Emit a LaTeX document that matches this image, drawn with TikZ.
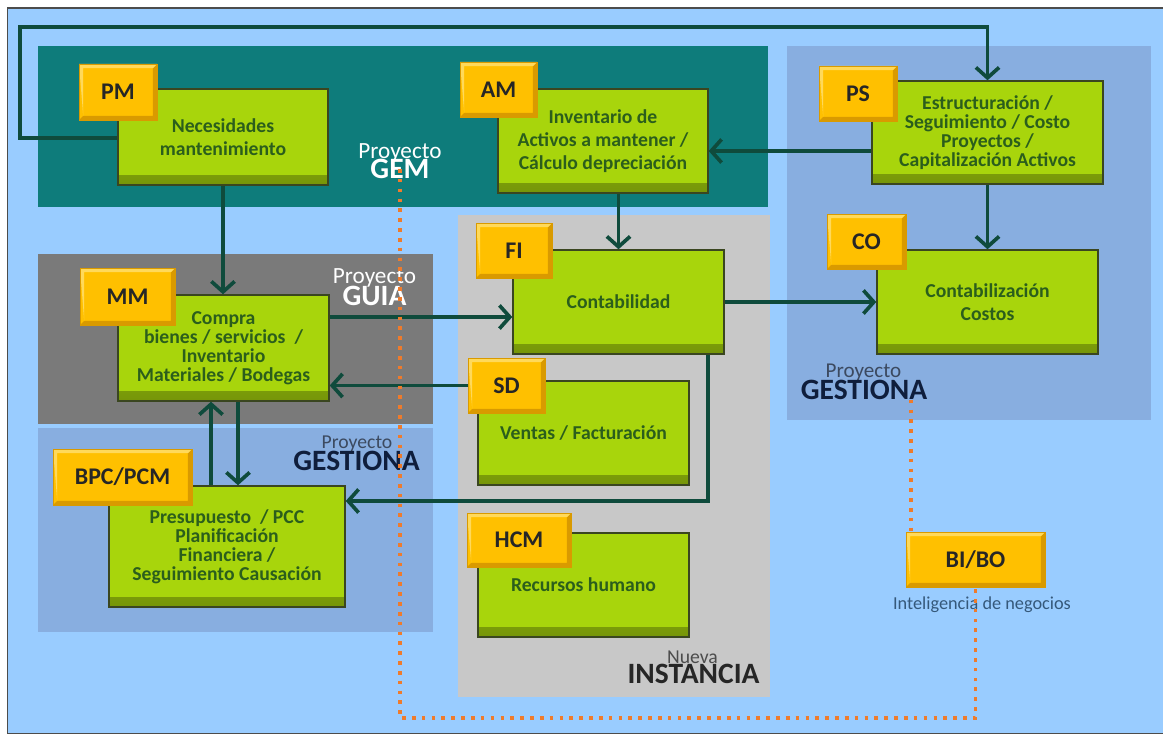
\documentclass[tikz,border=0pt]{standalone}
\usepackage{fontspec}
\setmainfont{Carlito}
\usetikzlibrary{arrows.meta,positioning,calc}
\definecolor{mapsky}{HTML}{99CCFF}
\definecolor{mapteal}{HTML}{0E7C7B}
\definecolor{mapsteel}{HTML}{88AEE0}
\definecolor{mapslate}{HTML}{7A7A7A}
\definecolor{mapsilver}{HTML}{C8C8C8}
\definecolor{maplime}{HTML}{A8D50C}
\definecolor{mapedge}{HTML}{3A4620}
\definecolor{maptext}{HTML}{2B5E1C}
\definecolor{mapamber}{HTML}{FFC000}
\definecolor{mapamberdk}{HTML}{D99A00}
\definecolor{mapamberlt}{HTML}{FFD95A}
\definecolor{maparrow}{HTML}{0F4B3C}
\definecolor{maporange}{HTML}{EE7B2C}
\definecolor{mapnavy}{HTML}{0F1E3C}
\definecolor{mapgrey}{HTML}{3C4A60}
\definecolor{mapbi}{HTML}{35587A}

\begin{document}
\begin{tikzpicture}[
  modbox/.style={draw=mapedge, line width=1pt, fill=maplime, text=maptext,
    align=center, font=\fontsize{14}{13.5}\selectfont\bfseries, inner sep=2pt,
    path picture={\shade[top color=maplime, bottom color=maplime!70!black]
      ($(path picture bounding box.south west)+(0,7pt)$) rectangle (path picture bounding box.south east);}},
  airy/.style={font=\fontsize{14}{16.5}\selectfont\bfseries},
  tag/.style={fill=mapamber, draw=mapamberdk, line width=0.6pt, text=black!85,
    font=\fontsize{17}{17}\selectfont\bfseries, inner sep=0pt,
    path picture={
      \fill[mapamberdk] (path picture bounding box.south west) -- (path picture bounding box.south east)
        -- (path picture bounding box.north east) -- ++(-3pt,-3pt)
        |- ($(path picture bounding box.south west)+(3pt,3pt)$) -- cycle;
      \fill[mapamberlt] (path picture bounding box.north west) -- (path picture bounding box.north east)
        -- ++(-3pt,-3pt) -| ($(path picture bounding box.south west)+(3pt,3pt)$) -- cycle;}},
  sub/.style={font=\fontsize{16.5}{16.5}\selectfont, inner sep=0pt},
  big/.style={font=\fontsize{21}{21}\selectfont\bfseries, inner sep=0pt},
  arr/.style={-{Straight Barb[length=2.6mm,width=5.8mm,line width=2.6pt 0]}, line width=2.6pt, maparrow},
  orangedots/.style={maporange, line width=2.6pt, dash pattern=on 2.6pt off 4.4pt},
]
\useasboundingbox (0,0) rectangle (29.075,-18.475);
% --- background and project areas ---
\draw[fill=mapsky, draw=gray!60!black, line width=0.8pt] (0.18,-0.2) rectangle (29.4,-18.33);
\fill[mapteal] (0.95,-1.15) rectangle (19.2,-5.175);
\fill[mapsteel] (19.675,-1.15) rectangle (28.775,-10.5);
\fill[mapslate] (0.95,-6.35) rectangle (10.825,-10.6);
\fill[mapsteel] (0.95,-10.7) rectangle (10.825,-15.8);
\fill[mapsilver] (11.45,-5.375) rectangle (19.25,-17.425);
% --- modules ---
\node[modbox, airy, minimum width=5.25cm, minimum height=2.4cm] (nec) at (5.575,-3.425) {Necesidades\\mantenimiento};
\node[modbox, airy, minimum width=5.25cm, minimum height=2.6cm] (act) at (15.075,-3.525) {Inventario de\\Activos a mantener /\\Cálculo depreciación};
\node[modbox, minimum width=5.775cm, minimum height=2.575cm] (est) at (24.6875,-3.3125) {Estructuración /\\Seguimiento / Costo\\Proyectos /\\Capitalización Activos};
\node[modbox, airy, minimum width=5.525cm, minimum height=2.6cm] (cos) at (24.6875,-7.55) {Contabilización\\Costos};
\node[modbox, minimum width=5.275cm, minimum height=2.6cm] (cont) at (15.4625,-7.55) {Contabilidad};
\node[modbox, minimum width=5.275cm, minimum height=2.6cm] (vent) at (14.5875,-10.825) {Ventas / Facturación};
\node[modbox, minimum width=5.275cm, minimum height=2.65cm] (comp) at (5.5875,-8.7) {Compra\\bienes / servicios\ \ /\\Inventario\\Materiales / Bodegas};
\node[modbox, minimum width=5.9cm, minimum height=3.025cm] (pres) at (5.675,-13.6625) {Presupuesto\ \ / PCC\\Planificación\\Financiera /\\Seguimiento Causación};
\node[modbox, minimum width=5.275cm, minimum height=2.6cm] (rrhh) at (14.5875,-14.625) {Recursos humano};
% --- module tags ---
\node[tag, minimum width=1.95cm, minimum height=1.4cm] (pmtag) at (2.95,-2.3) {PM};
\node[tag, minimum width=1.925cm, minimum height=1.375cm] (amtag) at (12.4625,-2.2375) {AM};
\node[tag, minimum width=1.95cm, minimum height=1.375cm] (pstag) at (21.45,-2.3375) {PS};
\node[tag, minimum width=1.975cm, minimum height=1.375cm] (cotag) at (21.6625,-6.0375) {CO};
\node[tag, minimum width=1.9cm, minimum height=1.375cm] (fitag) at (12.85,-6.2625) {FI};
\node[tag, minimum width=1.925cm, minimum height=1.375cm] (sdtag) at (12.6625,-9.6375) {SD};
\node[tag, minimum width=2.375cm, minimum height=1.425cm] (mmtag) at (3.1875,-7.4125) {MM};
\node[tag, minimum width=3.475cm, minimum height=1.4cm] (bpctag) at (3.0625,-11.925) {BPC/PCM};
\node[tag, minimum width=2.6cm, minimum height=1.35cm] (hcmtag) at (12.975,-13.5) {HCM};
\node[tag, minimum width=3.475cm, minimum height=1.375cm] (bibo) at (24.3875,-13.9875) {BI/BO};
\node[font=\fontsize{13}{13}\selectfont, text=mapbi, inner sep=0pt] (bitext) at (24.55,-15.125) {Inteligencia de negocios};
% --- project labels ---
\node[sub, text=white] (gemsub) at (10,-3.825) {Proyecto};
\node[big, text=white] (gemname) at (10,-4.225) {GEM};
\node[sub, text=white] (guiasub) at (9.3625,-6.94) {Proyecto};
\node[big, text=white] (guianame) at (9.3625,-7.41) {GUIA};
\node[sub, font=\fontsize{14}{14}\selectfont, text=mapgrey] (geslsub) at (8.925,-11.1) {Proyecto};
\node[big, text=mapnavy] (geslname) at (8.9125,-11.525) {GESTIONA};
\node[sub, font=\fontsize{15}{15}\selectfont, text=mapgrey] (gesrsub) at (21.5875,-9.31) {Proyecto};
\node[big, text=mapnavy] (gesrname) at (21.6,-9.74) {GESTIONA};
\node[sub, font=\fontsize{14}{14}\selectfont, text=black!70] (nuevasub) at (17.3125,-16.425) {Nueva};
\node[big, text=black!85] (instname) at (17.3375,-16.86) {INSTANCIA};
% --- flows ---
\coordinate (loopc) at (0.5,-0.675);
\draw[arr] ([yshift=-0.025cm]nec.west) -| (loopc) -| (est.north);
\draw[arr] (nec.south) -- (nec.south |- comp.north);
\draw[arr] ([yshift=-0.4625cm]est.west) -- ([yshift=-0.4625cm]est.west -| act.east);
\draw[arr] (act.south -| cont.north) -- (cont.north);
\draw[arr] (est.south) -- (cos.north);
\draw[arr] ([yshift=0.775cm]comp.east) -- ([yshift=0.775cm]comp.east -| cont.west);
\draw[arr] (cont.east) -- (cos.west);
\draw[arr] (sdtag.west) -- (sdtag.west -| comp.east);
\draw[arr] ([xshift=2.2375cm]cont.south) |- ([yshift=1.1375cm]pres.east);
\draw[arr] ([xshift=-0.4cm]pres.north) -- ([xshift=-0.4cm]pres.north |- comp.south);
\draw[arr] ([xshift=0.3625cm]comp.south) -- ([xshift=0.3625cm]comp.south |- pres.north);
% --- BI links ---
\coordinate (bicorner) at (bibo.south |- 0,-17.95);
\draw[orangedots] (gemname.center) |- (bicorner) -- (bibo.south);
\draw[orangedots] ([xshift=1.175cm]gesrname.south) -- ([xshift=1.175cm]gesrname.south |- bibo.north);
\end{tikzpicture}
\end{document}
